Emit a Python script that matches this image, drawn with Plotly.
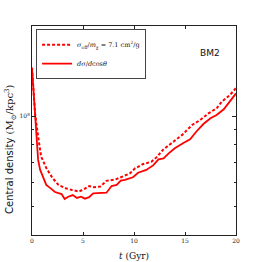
import plotly.graph_objects as go

# Solid curve: dsigma/dcos(theta)
t_solid = [0.0, 0.3, 0.6, 0.8, 1.1, 1.4, 1.8, 2.25, 2.9, 3.2, 3.55, 4.0, 4.4, 4.8, 5.2, 5.6,
           6.0, 6.7, 7.3, 7.8, 8.3, 8.7, 9.1, 9.9, 10.4, 11.2, 11.9, 12.4, 12.9, 13.4, 14.0,
           14.8, 15.5, 16.1, 16.8, 17.5, 18.1, 18.8, 19.4, 20.0]
rho_solid = [1.45e8, 9.7e7, 7.13e7, 6.6e7, 6.2e7, 5.88e7, 5.74e7, 5.57e7, 5.48e7, 5.28e7,
             5.37e7, 5.44e7, 5.32e7, 5.37e7, 5.29e7, 5.35e7, 5.51e7, 5.51e7, 5.54e7, 5.83e7,
             5.88e7, 6.08e7, 6.11e7, 6.24e7, 6.46e7, 6.6e7, 6.85e7, 7.16e7, 7.22e7, 7.5e7,
             7.8e7, 8.11e7, 8.36e7, 8.86e7, 9.4e7, 9.83e7, 1.008e8, 1.053e8, 1.116e8, 1.19e8]

# Dashed curve: sigma_eff/m_chi = 7.1 cm^2/g
t_dash = [0.0, 0.3, 0.6, 0.9, 1.4, 2.0, 2.6, 3.3, 3.9, 4.6, 5.1, 5.6, 6.1, 6.7, 7.3, 8.2,
          9.0, 9.6, 10.1, 10.9, 11.7, 12.2, 12.9, 13.9, 14.7, 15.7, 16.5, 17.3, 18.1, 18.6,
          19.4, 20.0]
rho_dash = [1.45e8, 1.02e8, 8.53e7, 7.31e7, 6.7e7, 6.21e7, 5.88e7, 5.73e7, 5.66e7, 5.59e7,
            5.69e7, 5.83e7, 5.78e7, 5.81e7, 6.07e7, 6.14e7, 6.3e7, 6.43e7, 6.68e7, 6.91e7,
            7.03e7, 7.27e7, 7.74e7, 8.2e7, 8.63e7, 9.33e7, 9.7e7, 1.02e8, 1.061e8, 1.116e8,
            1.175e8, 1.24e8]

x_ticks = [0, 5, 10, 15, 20]
y_major = [1e8]
y_major_text = ["10<sup>8</sup>"]
y_minor = [5e7, 6e7, 7e7, 8e7, 9e7]

label_dash = "<i>σ</i><sub>eff</sub>/<i>m</i><sub>χ</sub> = 7.1 cm<sup>2</sup>/g"
label_solid = "<i>dσ</i>/<i>d</i>cos<i>θ</i>"

RED = "#ff0000"

fig = go.Figure()
fig.add_trace(go.Scatter(x=t_dash, y=rho_dash, mode="lines", name=label_dash,
                         line=dict(color=RED, width=2, dash="3px,2px")))
fig.add_trace(go.Scatter(x=t_solid, y=rho_solid, mode="lines", name=label_solid,
                         line=dict(color=RED, width=1.8)))

axis_common = dict(showline=True, linecolor="#222222", linewidth=1, mirror="ticks",
                   ticks="inside", showgrid=False, zeroline=False,
                   tickcolor="#222222")

fig.update_xaxes(range=[0, 20], tickvals=x_ticks, ticklen=3,
                 tickfont=dict(family="DejaVu Serif", size=6, color="#222222"),
                 **axis_common)
fig.update_yaxes(type="log", range=[7.602, 8.301], tickvals=y_major, ticktext=y_major_text,
                 ticklen=4,
                 tickfont=dict(family="DejaVu Serif", size=6, color="#222222"),
                 minor=dict(tickvals=y_minor, ticks="inside", ticklen=2, tickcolor="#222222"),
                 **axis_common)

fig.update_layout(
    width=262, height=262,
    margin=dict(l=32, r=26, t=26, b=27),
    paper_bgcolor="white", plot_bgcolor="white",
    showlegend=True,
    legend=dict(x=0.02, y=0.985, xanchor="left", yanchor="top",
                bgcolor="white", bordercolor="#444444", borderwidth=1,
                font=dict(family="DejaVu Serif", size=6.5, color="#111111"),
                itemwidth=30, tracegroupgap=0),
    annotations=[
        dict(text="BM2", xref="paper", yref="paper", x=0.93, y=0.87,
             xanchor="right", yanchor="middle", showarrow=False,
             font=dict(family="DejaVu Sans", size=9, color="#111111")),
        dict(text="<i>t</i> (Gyr)", xref="paper", yref="paper", x=0.5, y=-0.065,
             xanchor="center", yanchor="top", showarrow=False,
             font=dict(family="DejaVu Serif", size=9, color="#111111")),
        dict(text="Central density <span style='font-family:DejaVu Serif'>(M<sub>⊙</sub>/kpc<sup>3</sup>)</span>",
             xref="paper", yref="paper", x=-0.105, y=0.41, textangle=-90,
             xanchor="center", yanchor="middle", showarrow=False,
             font=dict(family="DejaVu Sans", size=10, color="#111111")),
    ],
)

fig.write_html("out.html", config={"displayModeBar": False},
               post_script="document.body.style.margin='0';document.body.style.overflow='hidden';")
